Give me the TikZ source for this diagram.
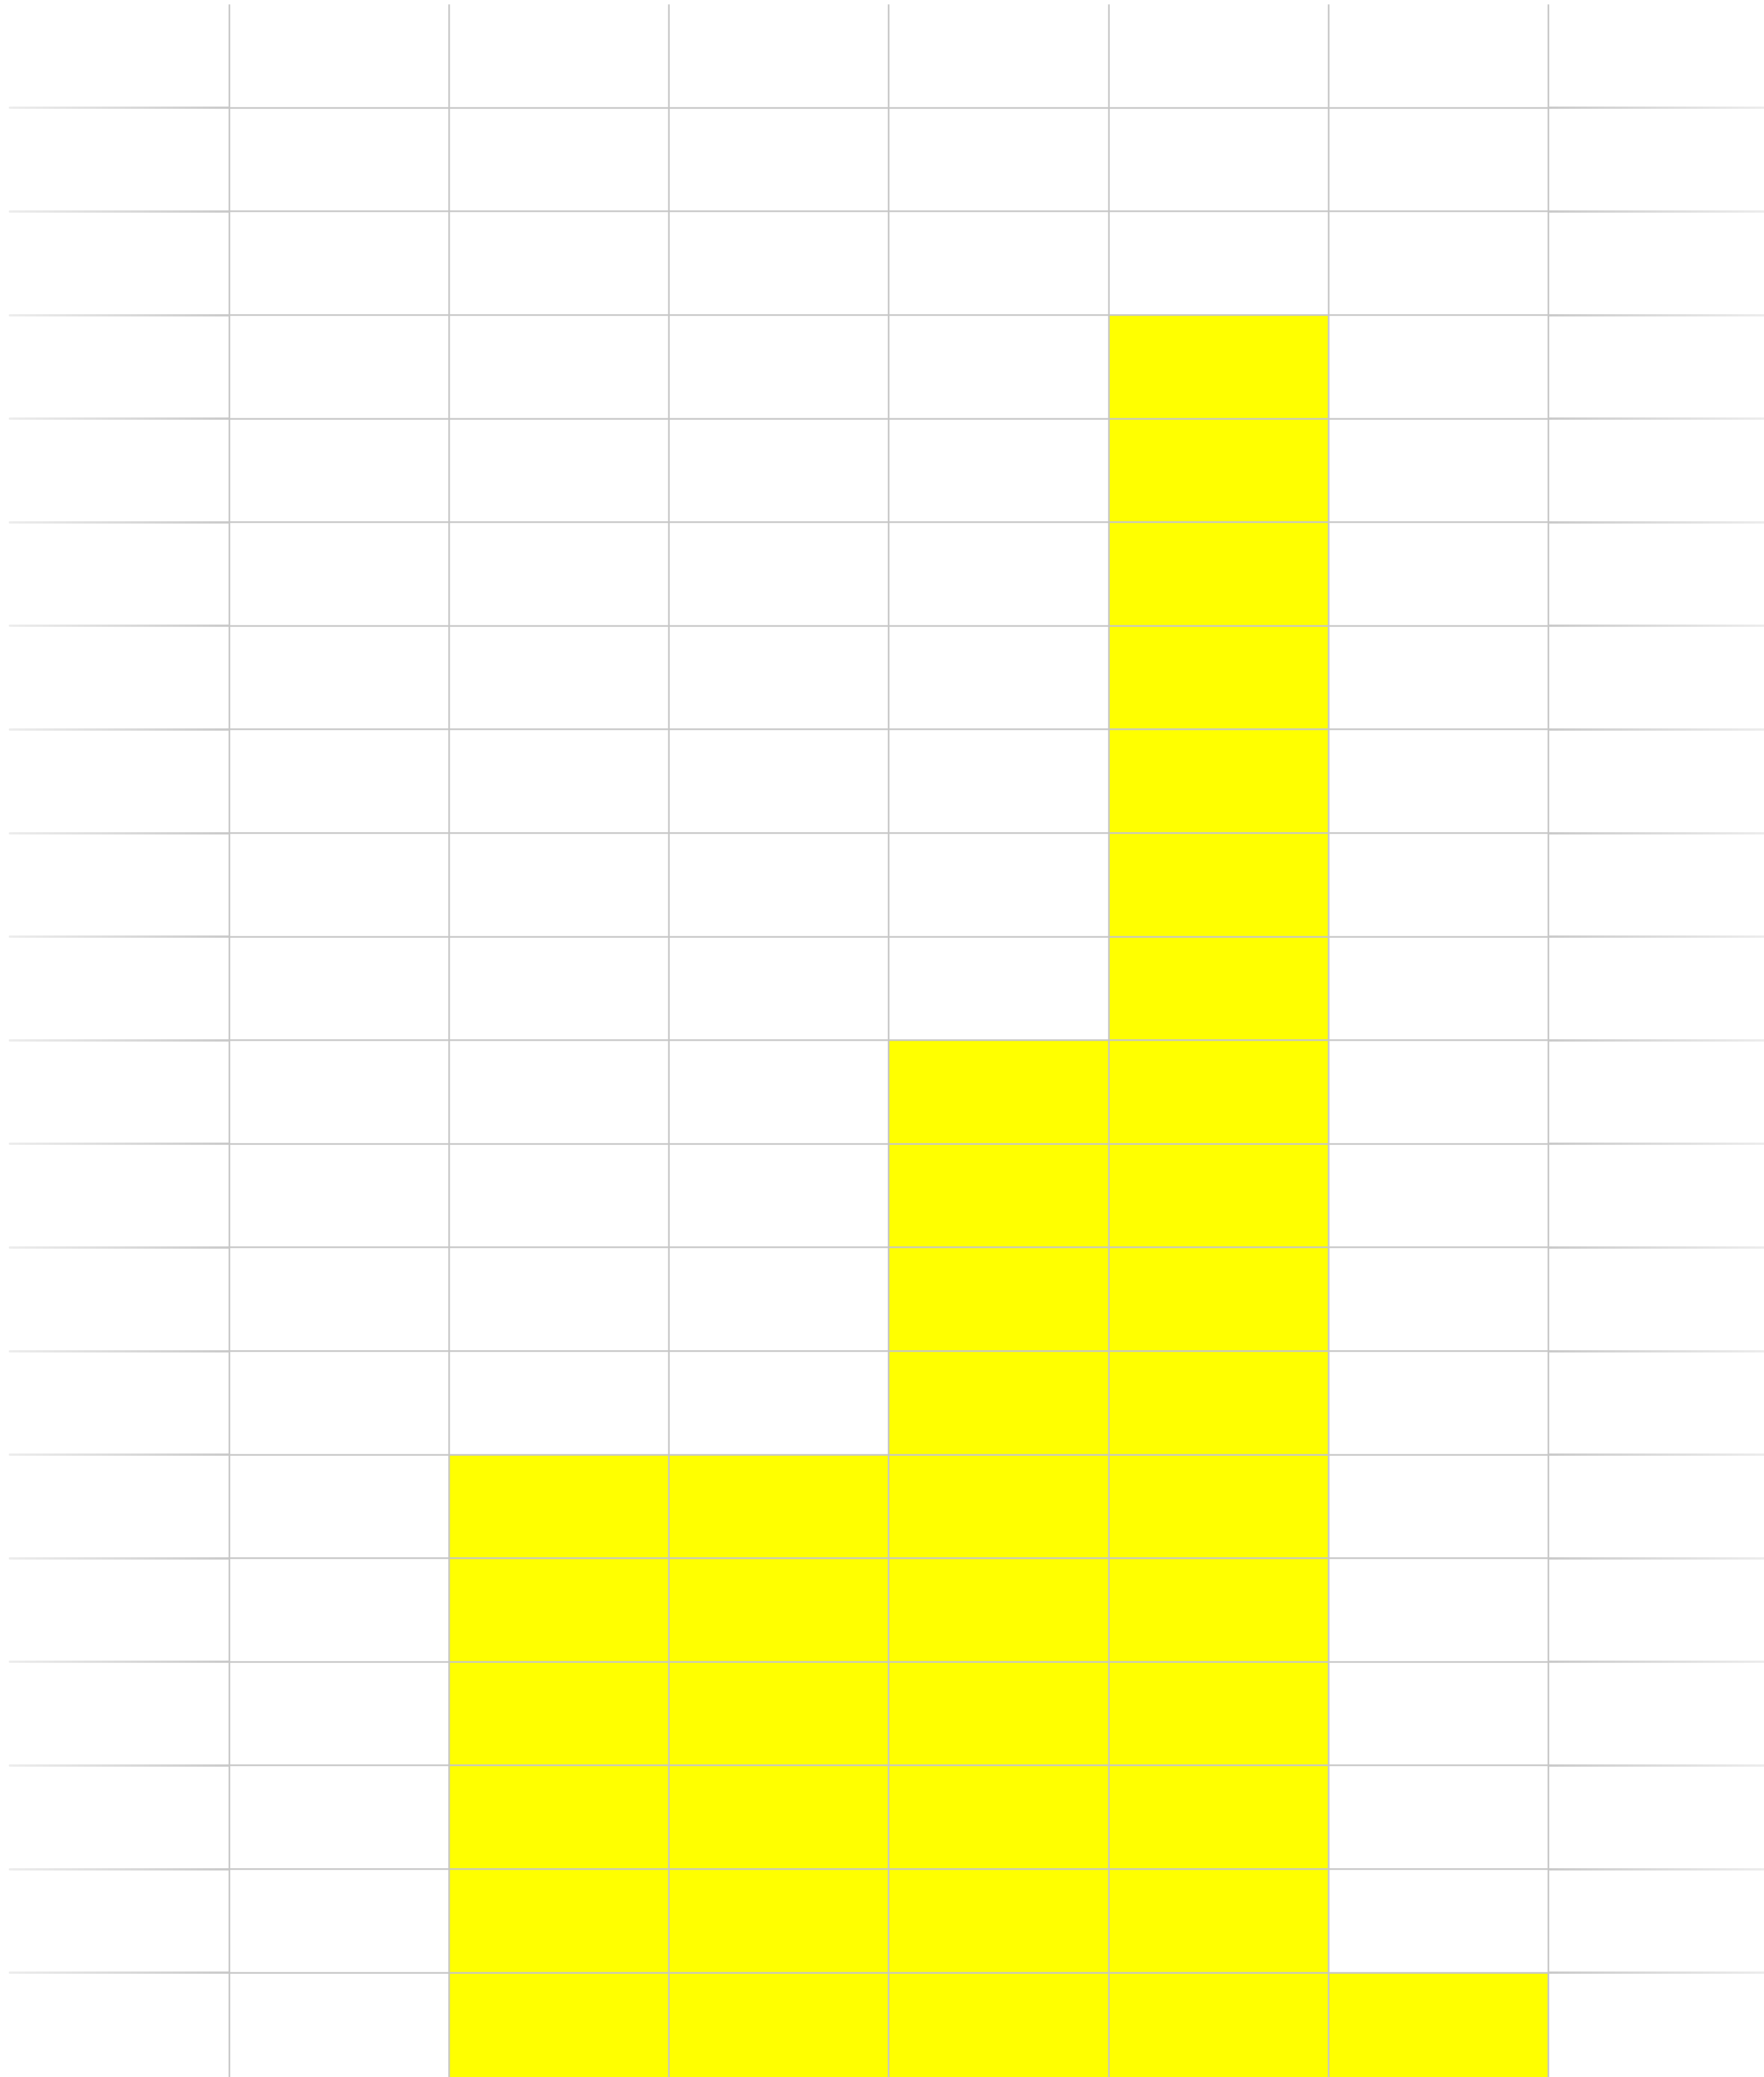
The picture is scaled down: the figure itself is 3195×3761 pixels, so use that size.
\documentclass[tikz,border=0pt]{standalone}
\definecolor{gridgray}{RGB}{198,198,198}
\definecolor{cellyellow}{RGB}{255,255,0}
\begin{document}
\begin{tikzpicture}[x=1pt,y=-1pt,
  gridline/.style={draw=gridgray, line width=3pt},
  cellfill/.style={fill=cellyellow}]
\useasboundingbox[fill=white] (0,0) rectangle (3195,3761);
% yellow cells
\fill[cellfill] (813.3,2634.1) rectangle (1609.9,3761);
\fill[cellfill] (1609.9,1883.7) rectangle (2008.2,3761);
\fill[cellfill] (2008.2,570.5) rectangle (2406.5,3761);
\fill[cellfill] (2406.5,3572.1) rectangle (2804.8,3761);
% horizontal grid lines
\foreach \k in {1,...,19}{
  \pgfmathsetmacro\yy{7.7+\k*187.6}
  \shade[left color=gridgray!35, right color=gridgray] (16.7,\yy-1.5) rectangle (415,\yy+1.5);
  \draw[gridline] (415,\yy) -- (2804.8,\yy);
  \shade[left color=gridgray, right color=gridgray!35] (2804.8,\yy-1.5) rectangle (3195,\yy+1.5);
}
% vertical grid lines
\foreach \k in {1,...,7}{
  \pgfmathsetmacro\xx{16.7+\k*398.3}
  \draw[gridline] (\xx,7.7) -- (\xx,3761);
}
\end{tikzpicture}
\end{document}
